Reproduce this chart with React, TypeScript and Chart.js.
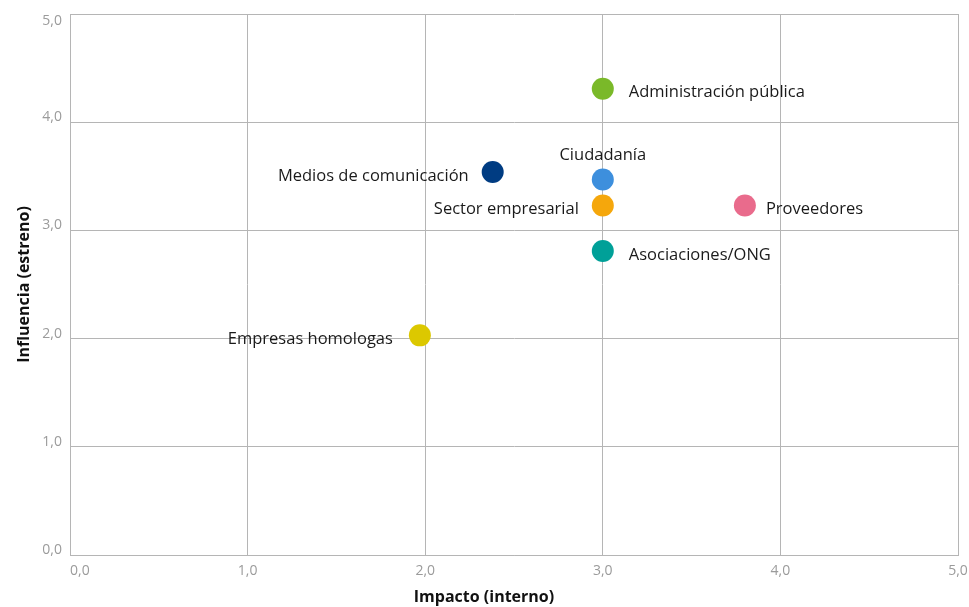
import React, { useEffect, useRef } from "react";
import { Chart, registerables } from "chart.js";

Chart.register(...registerables);

const stakeholders = [
  "Administración pública",
  "Medios de comunicación",
  "Ciudadanía",
  "Sector empresarial",
  "Asociaciones/ONG",
  "Proveedores",
  "Empresas homologas",
];
const impacto = [3.0, 2.38, 3.0, 3.0, 3.0, 3.8, 1.97];
const influencia = [4.31, 3.54, 3.47, 3.23, 2.81, 3.23, 2.03];
const pointColors = ["#7ab929", "#003c82", "#3d8fdd", "#f5a70c", "#00a098", "#e96b8c", "#dcc800"];
const tickValues = [0, 1, 2, 3, 4, 5];
const xTitle = "Impacto (interno)";
const yTitle = "Influencia (estreno)";

// label placement (style, not data)
const labelPlacement: Record<string, { side: "left" | "right" | "top"; gap: number }> = {
  "Administración pública": { side: "right", gap: 26 },
  "Medios de comunicación": { side: "left", gap: 24 },
  "Ciudadanía": { side: "top", gap: 24 },
  "Sector empresarial": { side: "left", gap: 24 },
  "Asociaciones/ONG": { side: "right", gap: 26 },
  "Proveedores": { side: "right", gap: 21 },
  "Empresas homologas": { side: "left", gap: 27 },
};

const FONT = "'Open Sans', 'Noto Sans', sans-serif";
const TICK_COLOR = "#9b9b9b";
const fmt = (v: number) => v.toFixed(1).replace(".", ",");

const labelsPlugin = {
  id: "pointLabels",
  afterDatasetsDraw(chart: any) {
    const ctx = chart.ctx;
    const meta = chart.getDatasetMeta(0);
    ctx.save();
    ctx.font = `16.5px ${FONT}`;
    ctx.fillStyle = "#1a1a1a";
    ctx.textBaseline = "middle";
    meta.data.forEach((pt: any, i: number) => {
      const name = stakeholders[i];
      const p = labelPlacement[name];
      if (p.side === "right") {
        ctx.textAlign = "left";
        ctx.fillText(name, pt.x + p.gap, pt.y + 4);
      } else if (p.side === "left") {
        ctx.textAlign = "right";
        ctx.fillText(name, pt.x - p.gap, pt.y + 4);
      } else {
        ctx.textAlign = "center";
        ctx.fillText(name, pt.x, pt.y - p.gap);
      }
    });
    ctx.restore();
  },
  afterDraw(chart: any) {
    const ctx = chart.ctx;
    const xs = chart.scales.x;
    const ys = chart.scales.y;
    ctx.save();
    // tick labels
    ctx.font = `14px ${FONT}`;
    ctx.fillStyle = TICK_COLOR;
    ctx.textBaseline = "middle";
    ctx.textAlign = "right";
    tickValues.forEach((v) => {
      const py = ys.getPixelForValue(v);
      const y = v === ys.max ? py + 7 : py - 5;
      ctx.fillText(fmt(v), ys.right - 8, y);
    });
    tickValues.forEach((v, i) => {
      const px = xs.getPixelForValue(v);
      ctx.textAlign = i === 0 ? "left" : "center";
      ctx.fillText(fmt(v), px, xs.top + 16);
    });
    // axis titles
    ctx.font = `bold 16px ${FONT}`;
    ctx.fillStyle = "#111";
    ctx.textAlign = "center";
    ctx.fillText(xTitle, 484, 597);
    ctx.translate(24, (chart.chartArea.top + chart.chartArea.bottom) / 2);
    ctx.rotate(-Math.PI / 2);
    ctx.fillText(yTitle, 0, 0);
    ctx.restore();
  },
};

export default function App() {
  const ref = useRef<HTMLCanvasElement>(null);
  useEffect(() => {
    document.body.style.margin = "0";
    const chart = new Chart(ref.current!, {
      type: "scatter",
      data: {
        datasets: [
          {
            data: impacto.map((x, i) => ({ x, y: influencia[i] })),
            backgroundColor: pointColors,
            borderColor: pointColors,
            pointRadius: 11,
            pointHoverRadius: 11,
            borderWidth: 0,
          },
        ],
      },
      options: {
        animation: false,
        responsive: false,
        events: [],
        layout: { padding: { left: 0, right: 11, top: 14, bottom: 0 } },
        plugins: { legend: { display: false }, tooltip: { enabled: false } },
        scales: {
          x: {
            type: "linear",
            min: 0,
            max: 5,
            afterBuildTicks: (s: any) => {
              s.ticks = tickValues.map((v) => ({ value: v }));
            },
            afterFit: (s: any) => {
              s.height = 52;
              s.paddingLeft = 0;
              s.paddingRight = 0;
            },
            grid: { color: "#b5b5b5", lineWidth: 1, drawTicks: false },
            border: { color: "#b5b5b5" },
            ticks: { display: false },
          },
          y: {
            type: "linear",
            min: 0,
            max: 5,
            afterBuildTicks: (s: any) => {
              s.ticks = tickValues.map((v) => ({ value: v }));
            },
            afterFit: (s: any) => {
              s.width = 70;
              s.paddingTop = 0;
              s.paddingBottom = 0;
            },
            grid: { color: "#b5b5b5", lineWidth: 1, drawTicks: false },
            border: { color: "#b5b5b5" },
            ticks: { display: false },
          },
        },
      },
      plugins: [labelsPlugin],
    });
    return () => chart.destroy();
  }, []);
  return <canvas ref={ref} width={969} height={607} style={{ display: "block" }} />;
}
